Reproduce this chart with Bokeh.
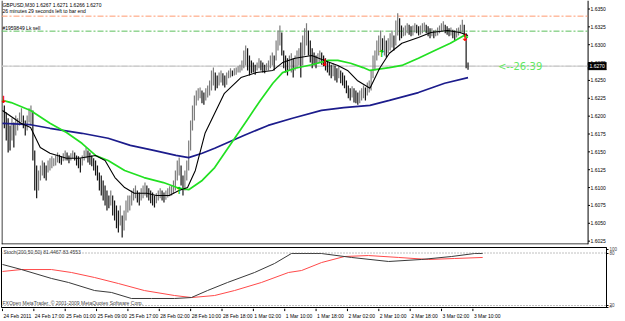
from bokeh.plotting import figure
from bokeh.layouts import column
from bokeh.models import Range1d, FixedTicker, Span, Label, ColumnDataSource
from bokeh.core.properties import value
from bokeh.embed import file_html
from bokeh.resources import INLINE

# ---------------- data (GBPUSD M30) ----------------
bar_high = [
 1.6223,1.6215,1.6205,1.6197,1.6187,1.6197,1.6191,1.6201,1.6197,1.6205,
 1.6211,1.6201,1.6194,1.6201,1.6211,1.6215,1.6208,1.6152,1.6131,1.6124,
 1.6131,1.6138,1.6135,1.6131,1.6138,1.6141,1.6144,1.6141,1.6145,1.6149,
 1.6146,1.6144,1.6148,1.6152,1.6149,1.6145,1.6148,1.6152,1.6149,1.6145,
 1.6144,1.6141,1.6145,1.6152,1.6156,1.6152,1.6149,1.6145,1.6141,1.6138,
 1.6131,1.6121,1.6117,1.6110,1.6103,1.6096,1.6089,1.6096,1.6089,1.6082,
 1.6075,1.6068,1.6075,1.6061,1.6068,1.6082,1.6089,1.6089,1.6096,1.6099,
 1.6103,1.6096,1.6093,1.6099,1.6103,1.6107,1.6103,1.6099,1.6096,1.6093,
 1.6089,1.6092,1.6096,1.6099,1.6096,1.6093,1.6096,1.6099,1.6102,1.6103,
 1.6110,1.6124,1.6138,1.6142,1.6131,1.6117,1.6124,1.6138,1.6166,1.6194,
 1.6215,1.6229,1.6236,1.6239,1.6240,1.6236,1.6233,1.6239,1.6243,1.6250,
 1.6264,1.6268,1.6261,1.6257,1.6261,1.6264,1.6260,1.6257,1.6261,1.6264,
 1.6267,1.6264,1.6267,1.6268,1.6270,1.6272,1.6278,1.6292,1.6299,1.6295,
 1.6285,1.6278,1.6275,1.6272,1.6275,1.6281,1.6278,1.6275,1.6272,1.6274,
 1.6278,1.6285,1.6289,1.6285,1.6306,1.6320,1.6327,1.6317,1.6292,1.6285,
 1.6281,1.6285,1.6288,1.6281,1.6285,1.6292,1.6295,1.6303,1.6313,1.6323,
 1.6330,1.6320,1.6306,1.6295,1.6289,1.6285,1.6288,1.6292,1.6289,1.6285,
 1.6281,1.6278,1.6275,1.6272,1.6274,1.6271,1.6267,1.6270,1.6264,1.6261,
 1.6257,1.6250,1.6243,1.6239,1.6242,1.6239,1.6236,1.6233,1.6236,1.6239,
 1.6243,1.6240,1.6247,1.6250,1.6264,1.6285,1.6292,1.6306,1.6313,1.6320,
 1.6309,1.6313,1.6306,1.6309,1.6316,1.6320,1.6313,1.6334,1.6344,1.6337,
 1.6327,1.6324,1.6327,1.6330,1.6328,1.6326,1.6327,1.6330,1.6328,1.6326,
 1.6327,1.6330,1.6331,1.6328,1.6326,1.6323,1.6323,1.6320,1.6321,1.6324,
 1.6327,1.6330,1.6333,1.6328,1.6326,1.6323,1.6324,1.6321,1.6320,1.6323,
 1.6324,1.6328,1.6335,1.6328,1.6316,1.6275]
bar_low = [
 1.6197,1.6183,1.6166,1.6149,1.6152,1.6166,1.6156,1.6173,1.6180,1.6187,
 1.6191,1.6183,1.6173,1.6180,1.6191,1.6187,1.6138,1.6096,1.6085,1.6096,
 1.6110,1.6117,1.6113,1.6110,1.6121,1.6124,1.6127,1.6130,1.6131,1.6135,
 1.6134,1.6132,1.6137,1.6138,1.6138,1.6134,1.6138,1.6141,1.6138,1.6131,
 1.6127,1.6121,1.6131,1.6138,1.6141,1.6135,1.6132,1.6130,1.6124,1.6117,
 1.6110,1.6096,1.6089,1.6082,1.6075,1.6068,1.6071,1.6075,1.6061,1.6054,
 1.6043,1.6037,1.6047,1.6030,1.6040,1.6054,1.6065,1.6068,1.6075,1.6082,
 1.6085,1.6079,1.6075,1.6082,1.6085,1.6089,1.6086,1.6082,1.6078,1.6075,
 1.6072,1.6078,1.6082,1.6085,1.6082,1.6079,1.6083,1.6086,1.6088,1.6089,
 1.6092,1.6096,1.6110,1.6117,1.6103,1.6089,1.6096,1.6110,1.6124,1.6152,
 1.6180,1.6194,1.6215,1.6222,1.6225,1.6218,1.6216,1.6222,1.6226,1.6229,
 1.6236,1.6243,1.6236,1.6239,1.6243,1.6247,1.6243,1.6240,1.6244,1.6253,
 1.6254,1.6256,1.6257,1.6258,1.6261,1.6261,1.6264,1.6267,1.6271,1.6264,
 1.6257,1.6260,1.6261,1.6258,1.6264,1.6267,1.6264,1.6261,1.6260,1.6264,
 1.6264,1.6267,1.6271,1.6264,1.6278,1.6292,1.6299,1.6285,1.6267,1.6261,
 1.6257,1.6264,1.6261,1.6254,1.6264,1.6267,1.6271,1.6254,1.6271,1.6285,
 1.6299,1.6285,1.6275,1.6267,1.6271,1.6267,1.6274,1.6275,1.6272,1.6270,
 1.6264,1.6261,1.6257,1.6253,1.6256,1.6250,1.6247,1.6253,1.6246,1.6243,
 1.6239,1.6232,1.6225,1.6222,1.6226,1.6219,1.6218,1.6216,1.6218,1.6222,
 1.6225,1.6222,1.6229,1.6233,1.6236,1.6253,1.6264,1.6278,1.6285,1.6292,
 1.6289,1.6285,1.6282,1.6288,1.6292,1.6296,1.6292,1.6299,1.6313,1.6306,
 1.6309,1.6312,1.6313,1.6316,1.6314,1.6312,1.6313,1.6317,1.6316,1.6313,
 1.6314,1.6316,1.6319,1.6316,1.6312,1.6309,1.6312,1.6309,1.6312,1.6313,
 1.6316,1.6319,1.6320,1.6316,1.6314,1.6312,1.6313,1.6309,1.6306,1.6310,
 1.6313,1.6316,1.6317,1.6312,1.6267,1.6265]

# moving averages sampled at bar positions
ma_fast_x = [0, 9.7, 14.8, 19.9, 25, 33.7, 40.3, 49, 54, 59.2, 64.3, 69.4, 76, 81, 87.8, 92.9, 97.4,
             101.5, 106.6, 111.7, 116.8, 125.5, 133.7, 142.3, 147.4, 154, 162.8, 169.4, 176.5, 181.6,
             186.7, 193.4, 198.5, 203.6, 210.2, 218.9, 225.5, 234.2, 240.8, 245]
ma_fast_y = [1.6208, 1.6190, 1.6184, 1.6156, 1.6148, 1.6141, 1.6141, 1.6145, 1.6138, 1.6114, 1.6100,
             1.6092, 1.6092, 1.6089, 1.6089, 1.6096, 1.6100, 1.6124, 1.6176, 1.6204, 1.6232, 1.6254,
             1.6261, 1.6264, 1.6275, 1.6281, 1.6285, 1.6278, 1.6271, 1.6264, 1.6250, 1.6239, 1.6267,
             1.6288, 1.6302, 1.6310, 1.6317, 1.6320, 1.6317, 1.6313]
ma_mid_x = [0, 4.6, 14.8, 25, 33.7, 41.8, 49, 55.6, 64.3, 74.5, 84.7, 92.9, 98, 105.1, 111.7, 128.6,
            135.7, 142.3, 147.4, 154, 162.8, 171.4, 176.5, 183.2, 189.8, 193.4, 203.6, 210.2, 218.9,
            227.5, 235.7, 242.9, 245]
ma_mid_y = [1.6222, 1.6219, 1.6208, 1.6190, 1.6177, 1.6162, 1.6145, 1.6138, 1.6124, 1.6114, 1.6107,
            1.6099, 1.6097, 1.6110, 1.6128, 1.6194, 1.6222, 1.6246, 1.6261, 1.6267, 1.6272, 1.6278,
            1.6278, 1.6274, 1.6268, 1.6264, 1.6268, 1.6271, 1.6281, 1.6292, 1.6302, 1.6313, 1.6310]
ma_slow_x = [0, 14.8, 25, 41.8, 55.6, 67.3, 79.6, 91.3, 98, 105.1, 111.7, 127, 139.8, 152.6, 167.9,
             179.6, 193.4, 203.6, 218.9, 232.7, 245]
ma_slow_y = [1.6190, 1.6188, 1.6183, 1.6176, 1.6169, 1.6159, 1.6152, 1.6145, 1.6142, 1.6148, 1.6155,
             1.6173, 1.6187, 1.6197, 1.6208, 1.6212, 1.6215, 1.6222, 1.6233, 1.6246, 1.6254]

stoch_main_x = [0, 9.7, 25, 33.7, 47, 55.6, 65.8, 76, 87.8, 96.4, 104.6, 114.8, 128.6, 138.8, 147.4,
                162.8, 178.1, 197, 213.8, 229.1, 240.8, 245]
stoch_main_y = [66.9, 61.1, 50.9, 46.3, 37.1, 34.9, 28.0, 28.0, 28.0, 29.1, 37.1, 46.3, 57.7, 68.0,
                79.4, 79.4, 74.9, 70.3, 72.6, 76.0, 79.4, 79.4]
stoch_sig_x = [0, 9.7, 25, 35.2, 47, 59.2, 72.4, 87.8, 96.4, 108.2, 118.4, 132.1, 145.9, 152.6, 162.8,
               174.5, 186.7, 202.1, 217.4, 230.6, 245]
stoch_sig_y = [58.9, 61.1, 61.1, 57.7, 52.0, 45.1, 37.1, 31.4, 29.1, 31.4, 37.1, 46.3, 57.7, 60.0,
               69.1, 76.0, 77.1, 74.9, 72.6, 73.7, 74.9]

sell_x = [0.5, 169.5, 243.4]
sell_y = [1.6223, 1.6275, 1.6310]
buy_x = [92.9, 199.5]
buy_y = [1.6096, 1.6288]

order_tp = 1.6340
order_open = 1.6319
last_price = 1.6270

price_ticks = [1.6025, 1.6050, 1.6075, 1.6100, 1.6125, 1.6150, 1.6175, 1.6200,
               1.6225, 1.6250, 1.6275, 1.6300, 1.6325, 1.6350]
time_label_bars = [0, 16, 32, 48, 64, 80, 96, 112, 128, 144, 160, 176, 192, 208, 224, 240]
time_labels = ["24 Feb 2011", "24 Feb 17:00", "25 Feb 01:00", "25 Feb 09:00", "25 Feb 17:00",
               "28 Feb 02:00", "28 Feb 10:00", "28 Feb 18:00", "1 Mar 02:00", "1 Mar 10:00",
               "1 Mar 18:00", "2 Mar 02:00", "2 Mar 10:00", "2 Mar 18:00", "3 Mar 02:00",
               "3 Mar 10:00"]

# ---------------- layout helpers ----------------
FONT = value("Liberation Sans")
BARPX = 1.96                               # pixels per bar
Y_TOP, Y_BOT = 1.63619, 1.60203            # main frame spans 244 px
def py(pix):                               # pixel row (from top) -> price (for placing decorations)
    return Y_TOP - (Y_TOP - Y_BOT) * pix / 244.0
def px(pix):                               # pixel column -> bar coordinate
    return (pix - 1) / BARPX - 0.5

AXIS_X = px(606)
main = figure(width=625, height=245, x_range=Range1d(-0.5, px(625)), y_range=Range1d(Y_BOT, Y_TOP),
              output_backend="svg", toolbar_location=None, x_axis_type=None, y_axis_type=None,
              min_border_left=1, min_border_right=0, min_border_top=0, min_border_bottom=1)
main.grid.visible = False
main.outline_line_color = None
main.background_fill_color = "white"

# frame edges and price axis (drawn by hand so the last-price box can sit on it)
main.segment(x0=[px(1.5), px(1), AXIS_X], y0=[py(0), py(243.5), py(0)],
             x1=[px(1.5), AXIS_X, AXIS_X], y1=[py(244), py(243.5), py(244)],
             line_color="#000000", line_width=1)
main.segment(x0=[AXIS_X] * len(price_ticks), y0=price_ticks,
             x1=[px(608)] * len(price_ticks), y1=price_ticks, line_color="#000000", line_width=1)
main.text(x=[px(608.5)] * len(price_ticks), y=price_ticks, text=[f"{t:.4f}" for t in price_ticks],
          text_font_size="5px", text_font=FONT, text_baseline="middle", text_align="left",
          text_color="#000000")

# horizontal order / price lines (stop at axis)
main.segment(x0=[px(1)] * 3, y0=[order_tp, order_open, last_price],
             x1=[AXIS_X] * 3, y1=[order_tp, order_open, last_price],
             line_color=["#ff9a70", "#5cbf5c", "#c8c8c8"],
             line_dash="6 2 2 2", line_width=1)
main.segment(x0=[px(1)], y0=[last_price], x1=[AXIS_X], y1=[last_price],
             line_color="#c8c8c8", line_width=1)

# last price box on the axis
main.rect(x=[px(616)], y=[last_price], width=[19], height=[7], width_units="screen",
          height_units="screen", fill_color="#000000", line_color="#000000")
main.text(x=[px(607.5)], y=[last_price], text=[f"{last_price:.4f}"], text_font_size="5px",
          text_font=FONT, text_baseline="middle", text_align="left", text_color="#ffffff")

# bars
idx = list(range(len(bar_high)))
mids = [(h + l) / 2 for h, l in zip(bar_high, bar_low)]
cols = ["#7c7c7c" if (i == 0 or mids[i] >= mids[i - 1]) else "#151515" for i in idx]
src = ColumnDataSource(dict(x=idx, hi=bar_high, lo=bar_low, c=cols))
main.segment(x0="x", y0="lo", x1="x", y1="hi", color="c", line_width=1.2, source=src)

# moving averages
main.line(ma_slow_x, ma_slow_y, line_color="#1c1c8c", line_width=1.7)
main.line(ma_mid_x, ma_mid_y, line_color="#22e022", line_width=1.7)
main.line(ma_fast_x, ma_fast_y, line_color="#000000", line_width=1.1)

# signal arrows
main.text(sell_x, sell_y, text=["\u2193"] * len(sell_x), text_color="#ff0000",
          text_font_size="10px", text_font_style="bold", text_align="center",
          text_baseline="middle", text_font=value("DejaVu Sans"))
main.text(buy_x, buy_y, text=["\u2191"] * len(buy_x), text_color="#00cc00",
          text_font_size="10px", text_font_style="bold", text_align="center",
          text_baseline="middle", text_font=value("DejaVu Sans"))

# texts
for t, yy in [("GBPUSD,M30  1.6267 1.6271 1.6266 1.6270", 4),
              ("26 minutes 29 seconds left to bar end", 10),
              ("#1959849 Lk sell", 27)]:
    main.add_layout(Label(x=px(2), y=py(yy), text=t, text_font_size="5px",
                          text_font="Liberation Sans", text_baseline="middle", text_color="#000000"))
main.add_layout(Label(x=px(513), y=last_price, text="<--26:39", text_font_size="10px",
                      text_font="DejaVu Sans", text_baseline="middle", text_color="#62e862"))

# ---------------- stochastic panel ----------------
XR2 = Range1d(-0.5, px(606))
stoch = figure(width=625, height=63, x_range=XR2, y_range=Range1d(16.57, 86.29),
               output_backend="svg", toolbar_location=None, x_axis_type=None,
               y_axis_location="right", min_border_left=1, min_border_right=19,
               min_border_top=2, min_border_bottom=0)
stoch.grid.visible = False
stoch.outline_line_color = "#000000"
sa = stoch.yaxis[0]
sa.ticker = FixedTicker(ticks=[17.5, 20, 80, 84.5])
sa.major_label_overrides = {17.5: "0", 20: "20", 80: "80", 84.5: "100"}
sa.major_label_text_font_size = "4.5px"
sa.major_label_standoff = 1
sa.major_tick_out = 2
sa.major_tick_in = 0
sa.minor_tick_line_color = None
for lv in (80, 20):
    stoch.add_layout(Span(location=lv, dimension="width", line_color="#808080",
                          line_dash="1 2", line_width=1))
stoch.line(stoch_sig_x, stoch_sig_y, line_color="#ff4a4a", line_width=1)
stoch.line(stoch_main_x, stoch_main_y, line_color="#3a3a3a", line_width=1)
stoch.add_layout(Label(x=px(3), y=81.7, text="Stoch(200,50,50) 81.4467 83.4553",
                       text_font_size="5px", text_font="Liberation Sans", text_baseline="middle"))
stoch.add_layout(Label(x=px(2), y=23.4, text="FXOpen MetaTrader, \u00a9 2001-2009 MetaQuotes Software Corp.",
                       text_font_size="5px", text_font="Liberation Sans", text_baseline="middle"))

# ---------------- time labels strip ----------------
tfig = figure(width=625, height=13, x_range=XR2, y_range=Range1d(0, 1),
              output_backend="svg", toolbar_location=None, x_axis_type=None, y_axis_type=None,
              min_border_left=1, min_border_right=19, min_border_top=0, min_border_bottom=0)
tfig.grid.visible = False
tfig.outline_line_color = None
tfig.segment(x0=time_label_bars, y0=[1.0] * len(time_label_bars), x1=time_label_bars,
             y1=[0.8] * len(time_label_bars), line_color="#000000", line_width=1)
tfig.text(x=time_label_bars, y=[0.45] * len(time_label_bars), text=time_labels,
          text_font_size="5px", text_font=FONT, text_align="left", text_baseline="middle",
          x_offset=1)

layout = column(main, stoch, tfig, spacing=0)
open("out.html", "w").write(file_html(layout, INLINE))
